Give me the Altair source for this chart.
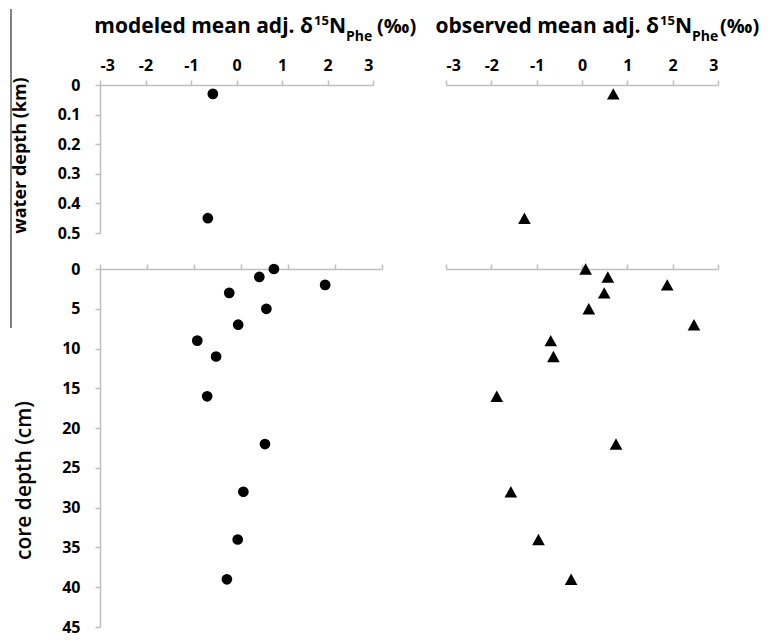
import altair as alt
import pandas as pd

# ---------------- data ----------------
water_depth_km = [0.03, 0.45]
modeled_water = [-0.52, -0.63]
observed_water = [0.69, -1.27]

core_depth_cm = [0, 1, 2, 3, 5, 7, 9, 11, 16, 22, 28, 34, 39]
modeled_core = [0.70, 0.39, 1.79, -0.25, 0.54, -0.06, -0.93, -0.53, -0.72, 0.51, 0.05, -0.07, -0.30]
observed_core = [0.08, 0.57, 1.88, 0.49, 0.15, 2.47, -0.69, -0.63, -1.88, 0.75, -1.57, -0.96, -0.24]

x_ticks = [-3, -2, -1, 0, 1, 2, 3]
water_ticks = [0, 0.1, 0.2, 0.3, 0.4, 0.5]
core_ticks = [0, 5, 10, 15, 20, 25, 30, 35, 40, 45]

FONT = "Open Sans"
GRAY = "#BFBFBF"
TRIANGLE = "M0,-0.9L1,0.9L-1,0.9Z"

water = pd.DataFrame({"depth": water_depth_km, "modeled": modeled_water, "observed": observed_water})
core = pd.DataFrame({"depth": core_depth_cm, "modeled": modeled_core, "observed": observed_core})
one = pd.DataFrame({"k": [0]})


def xenc(field, show_labels):
    return alt.X(
        f"{field}:Q",
        scale=alt.Scale(domain=[-3, 3], nice=False, zero=False),
        axis=alt.Axis(
            orient="top", values=x_ticks, title=None, grid=False, labels=show_labels,
            labelExpr="'' + datum.value", labelFont=FONT, labelFontSize=16,
            labelFontWeight="bold", labelColor="black", labelBaseline="alphabetic",
            labelPadding=10, domainColor=GRAY, domainWidth=1.5, tickColor=GRAY,
            tickWidth=1.5, tickSize=5,
        ),
    )


def yaxis(ticks, fmt, title, weight, size, tx, ty):
    return alt.Axis(
        orient="left", values=ticks, format=fmt, grid=False, title=title,
        labelFont=FONT, labelFontSize=16, labelFontWeight="bold", labelColor="black",
        labelPadding=15, domainColor=GRAY, domainWidth=1.5, tickColor=GRAY,
        tickWidth=1.5, tickSize=5, titleFont=FONT, titleFontSize=size,
        titleFontWeight=weight, titleColor="black", titleAngle=270,
        titleAlign="center", titleBaseline="middle", titleX=tx, titleY=ty,
    )


def title_marks(main, xs):
    def t(text, x, y, size, align):
        return alt.Chart(one).mark_text(
            text=text, align=align, baseline="alphabetic", font=FONT,
            fontSize=size, fontWeight="bold", color="black",
        ).encode(x=alt.value(x), y=alt.value(y))
    return [
        t(main, xs[0], -52, 21, "right"),
        t("15", xs[1], -60, 13, "left"),
        t("N", xs[2], -52, 21, "left"),
        t("Phe", xs[3], -44, 14, "left"),
        t("(‰)", xs[4], -52, 20, "left"),
    ]


wy_scale = alt.Scale(domain=[0, 0.5], reverse=True, nice=False, zero=False)
cy_scale = alt.Scale(domain=[0, 45], reverse=True, nice=False, zero=False)

circle = dict(shape="circle", filled=True, size=115, color="black", opacity=1)
tri = dict(shape=TRIANGLE, filled=True, size=160, color="black", opacity=1)

tl_pts = alt.Chart(water).mark_point(**circle).encode(
    x=xenc("modeled", True),
    y=alt.Y("depth:Q", scale=wy_scale,
            axis=yaxis(water_ticks, ".1~f", "water depth (km)", "bold", 18, -80, 70)),
)
rule = alt.Chart(one).mark_rule(color="#595959", strokeWidth=1.5).encode(
    x=alt.value(-89), y=alt.value(-76), y2=alt.value(243)
)
TL = alt.layer(tl_pts, rule, *title_marks("modeled mean adj. δ", [213, 214, 229, 246, 277])).properties(
    width=273, height=148
)

tr_pts = alt.Chart(water).mark_point(**tri).encode(
    x=xenc("observed", True),
    y=alt.Y("depth:Q", scale=wy_scale, axis=None),
)
TR = alt.layer(tr_pts, *title_marks("observed mean adj. δ", [213, 214, 229, 246, 274])).properties(
    width=272, height=148
)

BL = alt.Chart(core).mark_point(**circle).encode(
    x=xenc("modeled", False),
    y=alt.Y("depth:Q", scale=cy_scale,
            axis=yaxis(core_ticks, "d", "core depth (cm)", 600, 21, -76, 211)),
).properties(width=282, height=358)

BR = alt.Chart(core).mark_point(**tri).encode(
    x=xenc("observed", False),
    y=alt.Y("depth:Q", scale=cy_scale, axis=None),
).properties(width=272, height=358)

chart = alt.concat(
    TL, TR, BL, BR, columns=2, spacing={"row": 36, "column": 64}, bounds="flush"
).properties(
    padding={"left": 2, "top": 0, "right": 0, "bottom": 8}
).configure_view(stroke=None)

chart.save("out.html", embed_options={"renderer": "svg", "actions": False})
